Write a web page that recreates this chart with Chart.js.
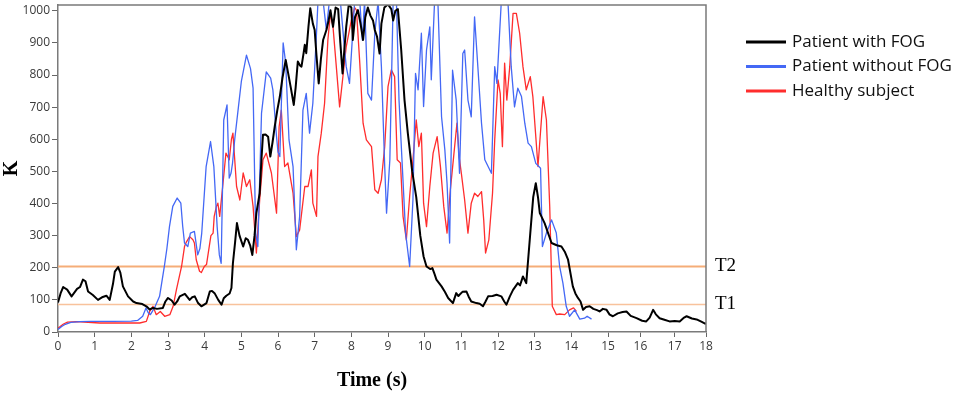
<!DOCTYPE html>
<html>
<head>
<meta charset="utf-8">
<script src="https://cdn.jsdelivr.net/npm/chart.js@4.4.1/dist/chart.umd.min.js"></script>
<style>
    html, body { margin: 0; padding: 0; background: #fff; }
    #wrap { position: relative; width: 965px; height: 396px; }
</style>
</head>
<body>
<div id="wrap"><canvas id="chartK"></canvas></div>
<script>
// Series labels
const seriesNames = ['Patient with FOG', 'Patient without FOG', 'Healthy subject'];

// Patient with FOG: time (s) and K
const fogTime = [0.00, 0.07, 0.14, 0.25, 0.37, 0.52, 0.60, 0.68, 0.75, 0.82, 0.95, 1.09, 1.20, 1.32, 1.41, 1.50, 1.55, 1.64, 1.70, 1.77, 1.91, 2.05, 2.14, 2.30, 2.41, 2.50, 2.59, 2.70, 2.86, 2.93, 3.00, 3.10, 3.18, 3.25, 3.32, 3.46, 3.52, 3.59, 3.66, 3.73, 3.82, 3.91, 4.05, 4.14, 4.20, 4.27, 4.37, 4.46, 4.52, 4.59, 4.68, 4.73, 4.77, 4.83, 4.88, 4.95, 5.05, 5.12, 5.18, 5.24, 5.30, 5.36, 5.41, 5.50, 5.55, 5.59, 5.66, 5.73, 5.79, 5.85, 5.91, 5.98, 6.05, 6.12, 6.21, 6.27, 6.35, 6.43, 6.48, 6.54, 6.60, 6.64, 6.70, 6.73, 6.77, 6.83, 6.88, 6.95, 7.00, 7.05, 7.11, 7.17, 7.23, 7.32, 7.38, 7.43, 7.50, 7.57, 7.64, 7.70, 7.76, 7.81, 7.86, 7.93, 8.00, 8.04, 8.10, 8.18, 8.25, 8.32, 8.38, 8.45, 8.52, 8.59, 8.64, 8.70, 8.77, 8.82, 8.90, 9.00, 9.09, 9.14, 9.20, 9.27, 9.36, 9.45, 9.54, 9.66, 9.77, 9.88, 9.97, 10.05, 10.15, 10.21, 10.27, 10.32, 10.46, 10.55, 10.64, 10.77, 10.86, 10.92, 10.95, 11.03, 11.14, 11.20, 11.27, 11.41, 11.50, 11.59, 11.66, 11.73, 11.85, 11.96, 12.09, 12.17, 12.23, 12.32, 12.41, 12.54, 12.60, 12.68, 12.77, 12.88, 12.96, 13.03, 13.09, 13.14, 13.27, 13.46, 13.60, 13.73, 13.82, 13.91, 14.04, 14.11, 14.18, 14.25, 14.32, 14.40, 14.50, 14.60, 14.70, 14.77, 14.86, 14.96, 15.05, 15.15, 15.30, 15.45, 15.57, 15.70, 15.88, 16.05, 16.17, 16.27, 16.37, 16.45, 16.56, 16.70, 16.85, 17.00, 17.16, 17.30, 17.38, 17.55, 17.70, 17.85, 17.97, 18.00];
const fogK = [92, 120, 140, 132, 111, 134, 140, 163, 158, 126, 115, 100, 108, 113, 100, 150, 188, 202, 185, 142, 111, 95, 90, 87, 80, 70, 75, 72, 75, 95, 106, 98, 85, 95, 111, 119, 110, 100, 108, 111, 90, 80, 90, 126, 128, 121, 100, 85, 105, 113, 120, 137, 214, 280, 339, 300, 266, 292, 287, 270, 240, 300, 370, 432, 540, 614, 615, 608, 546, 590, 639, 690, 733, 790, 847, 810, 760, 707, 760, 842, 830, 826, 870, 894, 868, 950, 1008, 960, 940, 860, 774, 850, 909, 940, 970, 1002, 950, 1010, 1005, 900, 805, 880, 950, 1020, 1010, 909, 980, 1002, 960, 909, 980, 1010, 985, 970, 940, 920, 867, 960, 1010, 1020, 1005, 970, 1000, 1005, 878, 722, 619, 500, 420, 300, 235, 204, 196, 199, 180, 163, 142, 125, 106, 90, 121, 112, 116, 125, 126, 110, 95, 90, 88, 80, 95, 111, 112, 116, 111, 95, 85, 110, 131, 152, 145, 173, 152, 308, 420, 463, 420, 370, 339, 277, 270, 266, 250, 225, 142, 120, 106, 95, 69, 78, 80, 72, 68, 64, 72, 69, 54, 49, 58, 62, 64, 50, 43, 35, 33, 45, 69, 55, 43, 38, 33, 34, 33, 45, 49, 42, 39, 32, 26, 28];

// Patient without FOG: time (s) and K
const noFogTime = [0.00, 0.10, 0.20, 0.35, 0.60, 0.90, 1.50, 2.00, 2.17, 2.31, 2.40, 2.46, 2.52, 2.63, 2.77, 2.90, 2.97, 3.04, 3.13, 3.25, 3.35, 3.40, 3.45, 3.54, 3.61, 3.72, 3.81, 3.87, 3.92, 4.04, 4.16, 4.25, 4.34, 4.40, 4.45, 4.52, 4.61, 4.67, 4.72, 4.76, 4.82, 4.92, 5.00, 5.14, 5.25, 5.32, 5.39, 5.45, 5.55, 5.68, 5.80, 5.86, 5.96, 6.00, 6.05, 6.14, 6.21, 6.30, 6.41, 6.50, 6.59, 6.68, 6.77, 6.86, 6.95, 7.05, 7.09, 7.23, 7.32, 7.40, 7.46, 7.59, 7.70, 7.80, 7.86, 7.95, 8.02, 8.09, 8.23, 8.30, 8.36, 8.45, 8.55, 8.64, 8.73, 8.82, 8.91, 8.96, 9.05, 9.14, 9.23, 9.30, 9.39, 9.48, 9.59, 9.68, 9.75, 9.82, 9.91, 9.97, 10.05, 10.14, 10.18, 10.27, 10.36, 10.46, 10.55, 10.61, 10.68, 10.76, 10.86, 10.95, 11.04, 11.09, 11.18, 11.27, 11.36, 11.45, 11.55, 11.64, 11.73, 11.82, 11.91, 11.97, 12.09, 12.27, 12.36, 12.45, 12.54, 12.64, 12.73, 12.82, 12.91, 13.03, 13.16, 13.21, 13.32, 13.46, 13.59, 13.68, 13.77, 13.86, 13.95, 14.09, 14.23, 14.36, 14.43, 14.55];
const noFogK = [8, 17, 24, 30, 32, 33, 33, 34, 36, 49, 75, 60, 54, 75, 111, 204, 260, 328, 391, 417, 401, 330, 277, 266, 308, 313, 240, 260, 308, 515, 593, 515, 328, 240, 214, 660, 707, 479, 495, 526, 600, 700, 780, 862, 820, 759, 308, 266, 681, 810, 790, 754, 608, 560, 546, 900, 837, 598, 515, 256, 360, 691, 743, 619, 712, 930, 1030, 1030, 940, 1030, 1030, 1030, 1030, 900, 826, 774, 900, 1030, 1030, 909, 1030, 743, 722, 930, 1030, 826, 515, 370, 536, 1030, 1030, 722, 515, 308, 204, 412, 805, 754, 930, 702, 878, 950, 785, 1030, 1030, 670, 567, 463, 277, 815, 722, 494, 867, 878, 722, 670, 981, 826, 650, 536, 515, 494, 826, 774, 1030, 1030, 826, 701, 759, 733, 650, 588, 577, 525, 510, 266, 308, 349, 308, 204, 152, 80, 49, 69, 40, 43, 49, 40];

// Healthy subject: time (s) and K
const healthyTime = [0.00, 0.05, 0.15, 0.26, 0.50, 1.14, 2.00, 2.23, 2.41, 2.50, 2.59, 2.68, 2.79, 2.91, 3.05, 3.14, 3.23, 3.37, 3.45, 3.50, 3.59, 3.68, 3.72, 3.77, 3.86, 3.91, 3.99, 4.05, 4.17, 4.23, 4.26, 4.32, 4.36, 4.41, 4.50, 4.58, 4.67, 4.73, 4.77, 4.87, 4.96, 5.05, 5.14, 5.23, 5.32, 5.41, 5.50, 5.59, 5.68, 5.82, 5.96, 6.03, 6.09, 6.18, 6.27, 6.41, 6.50, 6.59, 6.73, 6.82, 6.91, 6.95, 7.05, 7.09, 7.18, 7.27, 7.36, 7.43, 7.50, 7.59, 7.68, 7.77, 7.86, 8.00, 8.09, 8.14, 8.23, 8.32, 8.41, 8.55, 8.64, 8.73, 8.82, 8.91, 9.00, 9.09, 9.18, 9.25, 9.34, 9.41, 9.50, 9.59, 9.68, 9.77, 9.84, 9.91, 9.97, 10.05, 10.14, 10.23, 10.34, 10.43, 10.52, 10.61, 10.70, 10.79, 10.88, 10.94, 11.00, 11.09, 11.18, 11.27, 11.36, 11.45, 11.55, 11.61, 11.66, 11.75, 11.85, 11.91, 12.00, 12.06, 12.12, 12.18, 12.24, 12.32, 12.41, 12.50, 12.59, 12.68, 12.77, 12.88, 12.95, 13.09, 13.23, 13.32, 13.41, 13.48, 13.59, 13.68, 13.82, 13.95, 14.06, 14.14];
const healthyK = [12, 16, 25, 31, 32, 28, 28, 28, 33, 64, 80, 54, 64, 49, 54, 80, 132, 204, 266, 280, 297, 287, 277, 225, 189, 185, 204, 210, 300, 308, 360, 391, 401, 360, 463, 557, 536, 600, 619, 453, 411, 495, 453, 474, 391, 246, 411, 536, 557, 495, 370, 639, 691, 515, 526, 432, 297, 318, 453, 453, 505, 401, 360, 546, 619, 712, 909, 992, 950, 826, 701, 795, 888, 971, 1010, 1002, 837, 650, 598, 577, 443, 432, 474, 577, 764, 816, 795, 536, 526, 360, 287, 422, 536, 660, 577, 619, 401, 328, 453, 557, 608, 515, 391, 308, 443, 546, 650, 546, 494, 411, 308, 401, 432, 422, 437, 349, 246, 287, 432, 598, 785, 743, 577, 837, 722, 826, 992, 992, 930, 826, 754, 795, 733, 515, 733, 660, 391, 80, 54, 56, 54, 69, 75, 64];

// Thresholds
const thresholdNames = ['T2', 'T1'];
const thresholdValues = [204, 86];

// Axis ticks: the printed time axis is squeezed after 15 s
const timeTicks = [0, 15, 16, 17, 18];
const timeTickSpots = [0, 0.8488, 0.8988, 0.9517, 1];

const seriesColors = ['#000000', '#4468f5', '#ff2d2d'];
const seriesWidths = [2, 1.3, 1.3];
const thresholdColors = ['#f5ad78', '#f8c29c'];
const thresholdWidths = [2, 1.5];

// Map a time to a 0..1 position along the printed axis
function squeezeTime(t) {
    for (let i = 1; i < timeTicks.length; i++) {
        if (t <= timeTicks[i] || i === timeTicks.length - 1) {
            const a = timeTicks[i - 1], b = timeTicks[i];
            return timeTickSpots[i - 1] + (t - a) / (b - a) * (timeTickSpots[i] - timeTickSpots[i - 1]);
        }
    }
    return 0;
}

function unsqueezeTime(d) {
    for (let i = 1; i < timeTickSpots.length; i++) {
        if (d <= timeTickSpots[i] || i === timeTickSpots.length - 1) {
            const a = timeTickSpots[i - 1], b = timeTickSpots[i];
            return timeTicks[i - 1] + (d - a) / (b - a) * (timeTicks[i] - timeTicks[i - 1]);
        }
    }
    return 0;
}

class SqueezedTimeScale extends Chart.LinearScale {
    getPixelForValue(value) {
        if (value === null || value === undefined || isNaN(value)) return NaN;
        return this.getPixelForDecimal(squeezeTime(value));
    }
    getValueForPixel(pixel) {
        return unsqueezeTime(this.getDecimalForPixel(pixel));
    }
}
SqueezedTimeScale.id = 'squeezedTime';
SqueezedTimeScale.defaults = {};
Chart.register(SqueezedTimeScale);

function toPoints(times, values) {
    return times.map((t, i) => ({ x: t, y: values[i] }));
}

// Frame, x title, threshold labels and legend
const decorPlugin = {
    id: 'decor',
    afterDraw(chart) {
        const { ctx, chartArea: area, scales } = chart;
        ctx.save();
        ctx.strokeStyle = '#7a7a7a';
        ctx.lineWidth = 1.5;
        ctx.beginPath();
        ctx.moveTo(area.left, area.top);
        ctx.lineTo(area.right, area.top);
        ctx.lineTo(area.right, area.bottom);
        ctx.stroke();

        ctx.fillStyle = '#000';
        ctx.textBaseline = 'middle';
        ctx.textAlign = 'center';
        ctx.font = 'bold 20px "Liberation Serif", "Times New Roman", serif';
        ctx.fillText('Time (s)', 372, 381);

        ctx.textAlign = 'left';
        ctx.font = '19px "Liberation Serif", "Times New Roman", serif';
        thresholdNames.forEach((name, i) => {
            ctx.fillText(name, area.right + 9, scales.y.getPixelForValue(thresholdValues[i]));
        });

        ctx.font = '17px "Open Sans", sans-serif';
        seriesNames.forEach((name, i) => {
            const y = 42 + i * 24.5;
            ctx.strokeStyle = seriesColors[i];
            ctx.lineWidth = 3;
            ctx.beginPath();
            ctx.moveTo(746, y);
            ctx.lineTo(786, y);
            ctx.stroke();
            ctx.fillStyle = '#111';
            ctx.fillText(name, 792, y);
        });
        ctx.restore();
    }
};

function crearGrafico() {
    const ctx = document.getElementById('chartK').getContext('2d');
    const tickFont = { family: '"Open Sans", sans-serif', size: 12 };
    const titleFont = { family: '"Liberation Serif", "Times New Roman", serif', size: 20, weight: 'bold' };

    const seriesData = [
        toPoints(fogTime, fogK),
        toPoints(noFogTime, noFogK),
        toPoints(healthyTime, healthyK)
    ];

    const datasets = seriesNames.map((name, i) => ({
        label: name,
        data: seriesData[i],
        borderColor: seriesColors[i],
        backgroundColor: seriesColors[i],
        borderWidth: seriesWidths[i],
        borderJoinStyle: 'round',
        pointRadius: 0,
        tension: 0,
        order: 0
    }));

    thresholdNames.forEach((name, i) => {
        datasets.push({
            label: name,
            data: [{ x: 0, y: thresholdValues[i] }, { x: 18, y: thresholdValues[i] }],
            borderColor: thresholdColors[i],
            borderWidth: thresholdWidths[i],
            pointRadius: 0,
            order: 1
        });
    });

    new Chart(ctx, {
        type: 'line',
        data: { datasets: datasets },
        plugins: [decorPlugin],
        options: {
            responsive: true,
            maintainAspectRatio: false,
            animation: false,
            layout: { padding: { left: 0, top: 5, right: 259, bottom: 0 } },
            plugins: {
                legend: { display: false },
                tooltip: { enabled: false }
            },
            scales: {
                x: {
                    type: 'squeezedTime',
                    min: 0,
                    max: 18,
                    ticks: { stepSize: 1, autoSkip: false, maxRotation: 0, padding: 2, color: '#3a3a3a', font: tickFont },
                    grid: { drawOnChartArea: false, tickLength: 5, color: '#666' },
                    border: { color: '#7a7a7a', width: 1.5 },
                    afterFit: s => { s.height = 64; s.paddingLeft = 0; s.paddingRight = 0; }
                },
                y: {
                    min: 0,
                    max: 1018,
                    ticks: { stepSize: 100, includeBounds: false, padding: 2, color: '#3a3a3a', font: tickFont, callback: v => String(v) },
                    grid: { drawOnChartArea: false, tickLength: 6, color: '#666' },
                    border: { color: '#7a7a7a', width: 1.5 },
                    title: { display: true, text: 'K', color: '#000', font: titleFont, padding: 0 },
                    afterFit: s => { s.width = 58; s.paddingTop = 0; s.paddingBottom = 0; }
                }
            }
        }
    });
}

crearGrafico();
</script>
</body>
</html>
